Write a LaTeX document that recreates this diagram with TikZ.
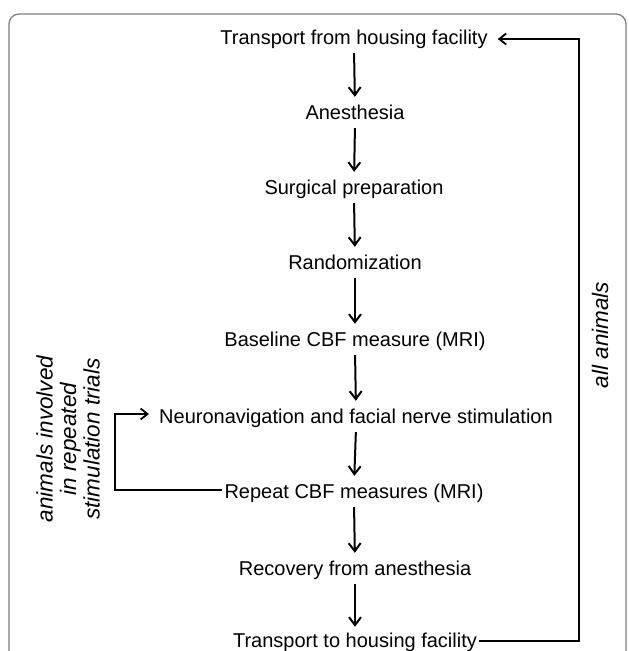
\documentclass[tikz,border=0pt]{standalone}
\usepackage{fontspec}
\setmainfont{Liberation Sans}
\usepackage{tikz}
\usetikzlibrary{arrows.meta,calc,positioning}

\tikzset{
	stage/.style={anchor=base,inner sep=0pt,text height=14pt,text depth=4pt,font=\fontsize{20}{24}\selectfont},
	side/.style={rotate=90,align=center,font=\fontsize{22.5}{23.5}\selectfont\itshape},
	flow/.style={line width=2pt,-{Straight Barb[length=8pt,width=12pt]}},
	loop/.style={line width=1.8pt,-{Straight Barb[length=7pt,width=11pt]}}
}

\begin{document}
\begin{tikzpicture}[x=1pt,y=1pt]
				\useasboundingbox (0,0) rectangle (629,651);
				\clip (0,0) rectangle (629,651);
				\draw[gray,line width=1.3pt,rounded corners=10pt] (9,-30) rectangle (626,637);
				\node[stage] (transfrom) at (354,606) {Transport from housing facility};
				\node[stage] (anest) at (355,531) {Anesthesia};
				\node[stage] (surg) at (354,456) {Surgical preparation};
				\node[stage] (random) at (355,381) {Randomization};
				\node[stage] (baseline) at (355,304) {Baseline CBF measure (MRI)};
				\node[stage] (neuro) at (356,227) {Neuronavigation and facial nerve stimulation};
				\node[stage] (repeat) at (354,152) {Repeat CBF measures (MRI)};
				\node[stage] (recov) at (355,75) {Recovery from anesthesia};
				\node[stage] (transto) at (355,3) {Transport to housing facility};
				\node[side] (alllab) at (600,316) {all animals};
				\node[side] (replab) at (68,212) {animals involved\\in repeated\\stimulation trials};
				\draw[flow,shorten <=4pt,shorten >=9pt] (transfrom.south) to (anest.north);
				\draw[flow,shorten <=4pt,shorten >=9pt] (anest.south) to (surg.north);
				\draw[flow,shorten <=4pt,shorten >=9pt] (surg.south) to (random.north);
				\draw[flow,shorten <=4pt,shorten >=9pt] (random.south) to (baseline.north);
				\draw[flow,shorten <=4pt,shorten >=9pt] (baseline.south) to (neuro.north);
				\draw[flow,shorten <=4pt,shorten >=9pt] (neuro.south) to (repeat.north);
				\draw[flow,shorten <=4pt,shorten >=9pt] (repeat.south) to (recov.north);
				\draw[flow,shorten <=4pt,shorten >=7pt] (recov.south) to (transto.north);
				\draw[loop] ([xshift=-2pt,yshift=4pt]repeat.west) -| (115,237) to ([xshift=-10pt,yshift=5pt]neuro.west);
				\draw[loop] ([xshift=2pt,yshift=2pt]transto.east) -| (579,612) to ([xshift=10pt,yshift=1pt]transfrom.east);
	\end{tikzpicture}
\end{document}
